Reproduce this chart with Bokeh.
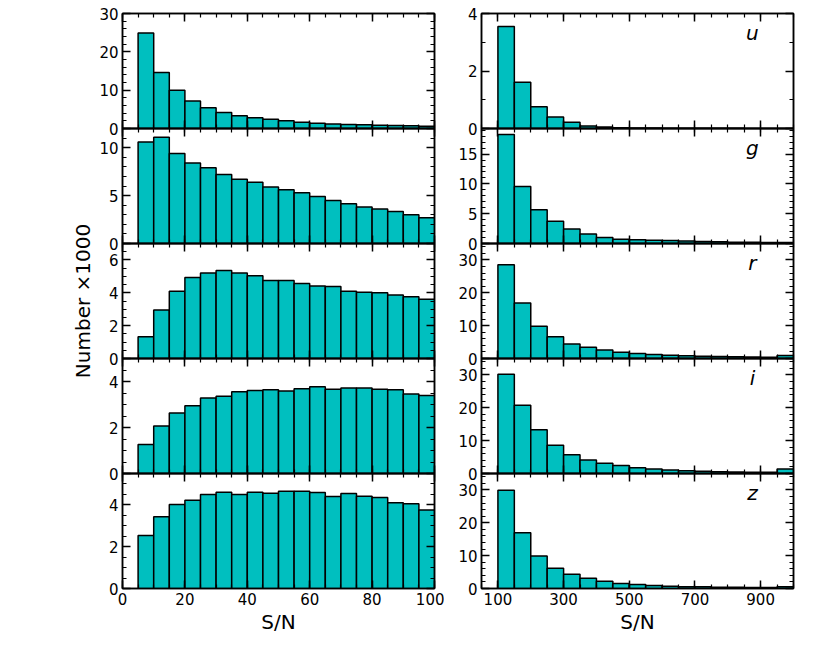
from bokeh.plotting import figure
from bokeh.models import Range1d, LinearAxis, FixedTicker, Label
from bokeh.layouts import row, column
from bokeh.embed import file_html
from bokeh.resources import INLINE

BANDS = ["u", "g", "r", "i", "z"]

LOW_EDGES = [5, 10, 15, 20, 25, 30, 35, 40, 45, 50, 55, 60, 65, 70, 75, 80, 85, 90, 95, 100]
HIGH_EDGES = [100, 150, 200, 250, 300, 350, 400, 450, 500, 550, 600, 650, 700, 750, 800,
              850, 900, 950, 1000]

# Number x1000, low S/N (5-100)
LOW_U = [24.9, 14.6, 10.0, 7.2, 5.4, 4.2, 3.3, 2.8, 2.4, 2.0, 1.65, 1.4, 1.2, 1.05, 0.95, 0.87, 0.8, 0.7, 0.6]
LOW_G = [10.6, 11.1, 9.4, 8.4, 7.9, 7.2, 6.7, 6.4, 5.9, 5.6, 5.3, 4.9, 4.5, 4.15, 3.8, 3.6, 3.35, 3.0, 2.7]
LOW_R = [1.33, 2.95, 4.1, 4.93, 5.21, 5.35, 5.21, 5.03, 4.75, 4.75, 4.57, 4.42, 4.38, 4.1, 4.04, 4.0, 3.86, 3.76, 3.6]
LOW_I = [1.26, 2.06, 2.63, 2.95, 3.28, 3.36, 3.55, 3.61, 3.64, 3.59, 3.69, 3.77, 3.66, 3.72, 3.72, 3.66, 3.64, 3.46, 3.39]
LOW_Z = [2.54, 3.43, 4.02, 4.22, 4.49, 4.6, 4.5, 4.6, 4.56, 4.65, 4.65, 4.59, 4.4, 4.54, 4.41, 4.35, 4.1, 4.05, 3.75]

# Number x1000, high S/N (100-1000)
HIGH_U = [3.55, 1.61, 0.76, 0.40, 0.22, 0.09, 0.05, 0.03, 0.02, 0.015, 0.01, 0.01, 0.008, 0.006, 0.005, 0.004, 0.003, 0.003]
HIGH_G = [18.3, 9.55, 5.65, 3.73, 2.43, 1.58, 1.02, 0.73, 0.62, 0.56, 0.5, 0.4, 0.33, 0.28, 0.22, 0.2, 0.17, 0.15]
HIGH_R = [28.5, 16.9, 9.8, 6.6, 4.4, 3.4, 2.6, 1.9, 1.5, 1.2, 1.0, 0.8, 0.7, 0.6, 0.5, 0.45, 0.4, 0.9]
HIGH_I = [30.2, 20.8, 13.3, 8.6, 5.7, 4.1, 3.1, 2.4, 1.75, 1.35, 1.05, 0.85, 0.65, 0.55, 0.45, 0.4, 0.35, 1.4]
HIGH_Z = [29.9, 17.0, 9.9, 6.2, 4.3, 3.1, 2.2, 1.5, 1.2, 0.9, 0.7, 0.55, 0.5, 0.4, 0.35, 0.3, 0.3, 0.5]

LOW_VALUES = [LOW_U, LOW_G, LOW_R, LOW_I, LOW_Z]
HIGH_VALUES = [HIGH_U, HIGH_G, HIGH_R, HIGH_I, HIGH_Z]

LOW_YMAX = [30, 12, 7, 5, 5.5]
HIGH_YMAX = [4, 19.3, 35, 35, 35]
# (major interval, minor step)
LOW_YTICK = [(10, 2), (5, 1), (2, 0.5), (2, 0.5), (2, 0.5)]
HIGH_YTICK = [(2, 1), (5, 1), (10, 2), (10, 2), (10, 2)]

LOW_XTICKS = [0, 20, 40, 60, 80, 100]
LOW_XMINOR = [0, 5, 10, 15, 20, 25, 30, 35, 40, 45, 50, 55, 60, 65, 70, 75, 80, 85, 90, 95, 100]
HIGH_XTICKS = [100, 300, 500, 700, 900]
HIGH_XMINOR = [50, 100, 150, 200, 250, 300, 350, 400, 450, 500, 550, 600, 650, 700, 750,
               800, 850, 900, 950, 1000]

YLABEL = "Number \u00d71000"
XLABEL = "S/N"

FILL = "#00bfbf"
FONT = "DejaVu Sans"
FH = 115
FW = 312
INNER = 10
TOP = 13
BOTTOM = 55
LAB_W = 96   # strip holding the shared y title


def steps(step, top):
    out = []
    i = 0
    while i * step <= top + 1e-9:
        out.append(round(i * step, 6))
        i += 1
    return out


def base_style(ax):
    ax.major_tick_out = 0
    ax.minor_tick_out = 0
    ax.axis_line_color = "black"
    ax.axis_line_width = 1.5
    ax.major_tick_line_color = "black"
    ax.minor_tick_line_color = "black"
    ax.major_label_standoff = 0
    ax.major_label_text_font = FONT
    ax.axis_label_text_font = FONT
    ax.axis_label_text_font_size = "20px"
    ax.axis_label_text_font_style = "normal"
    ax.axis_label_text_color = "black"


def labeled_axis(ticks, minor):
    ax = LinearAxis(ticker=FixedTicker(ticks=ticks, minor_ticks=minor))
    base_style(ax)
    ax.major_tick_in = 8
    ax.minor_tick_in = 4
    ax.major_tick_line_width = 1.5
    ax.minor_tick_line_width = 1.2
    ax.major_label_text_font_size = "15px"
    ax.major_label_text_color = "black"
    ax.major_label_standoff = 4
    return ax


def tick_only_axes(ticks, minor):
    # two label-free axes: long marks at major positions, short ones at minor positions
    a = LinearAxis(ticker=FixedTicker(ticks=[], minor_ticks=ticks))
    base_style(a)
    a.minor_tick_in = 8
    a.minor_tick_line_width = 1.5
    b = LinearAxis(ticker=FixedTicker(ticks=[], minor_ticks=minor))
    base_style(b)
    b.minor_tick_in = 4
    b.minor_tick_line_width = 1.2
    b.axis_line_color = None
    return [a, b]


def panel(edges, vals, xr, xticks, xminor, ymax, ytick, k, is_left, band):
    top_b = TOP if k == 0 else INNER
    bot_b = BOTTOM if k == 4 else INNER
    p = figure(frame_width=FW, frame_height=FH,
               x_range=Range1d(*xr), y_range=Range1d(0, ymax),
               x_axis_type=None, y_axis_type=None,
               output_backend="svg", toolbar_location=None,
               min_border_left=(122 - LAB_W) if is_left else 37,
               min_border_right=10,
               min_border_top=top_b, min_border_bottom=bot_b,
               background_fill_color=None, border_fill_color=None,
               outline_line_color="black", outline_line_width=1.5)
    if k > 0:
        p.margin = (-2 * INNER, 0, 0, 0)
    ymaj = steps(ytick[0], ymax)
    ymin = steps(ytick[1], ymax)

    p.add_layout(labeled_axis(ymaj, ymin), "left")
    for ax in tick_only_axes(ymaj, ymin):
        p.add_layout(ax, "right")
    for ax in tick_only_axes(xticks, xminor):
        p.add_layout(ax, "above")
    if k == 4:
        xb = labeled_axis(xticks, xminor)
        xb.axis_label = XLABEL
        xb.axis_label_standoff = 2
        p.add_layout(xb, "below")
    else:
        for ax in tick_only_axes(xticks, xminor):
            p.add_layout(ax, "below")

    p.quad(left=edges[:-1], right=edges[1:], bottom=0, top=vals,
           fill_color=FILL, line_color="black", line_width=1.5)
    if not is_left:
        p.add_layout(Label(x=875, y=ymax * 0.832, text=band, text_font=FONT,
                           text_font_size="20px", text_font_style="italic",
                           text_align="center", text_baseline="alphabetic",
                           text_color="black"))
    return p


left = [panel(LOW_EDGES, LOW_VALUES[k], (0, 100), LOW_XTICKS, LOW_XMINOR,
              LOW_YMAX[k], LOW_YTICK[k], k, True, BANDS[k]) for k in range(5)]
right = [panel(HIGH_EDGES, HIGH_VALUES[k], (50, 1000), HIGH_XTICKS, HIGH_XMINOR,
               HIGH_YMAX[k], HIGH_YTICK[k], k, False, BANDS[k]) for k in range(5)]

# narrow strip whose (tick-free) left axis carries the shared y title
lab = figure(frame_width=2, frame_height=5 * FH, x_range=Range1d(0, 1),
             y_range=Range1d(0, 1), x_axis_type=None, y_axis_type=None,
             output_backend="svg", toolbar_location=None,
             min_border_left=LAB_W - 2, min_border_right=0,
             min_border_top=TOP, min_border_bottom=BOTTOM,
             outline_line_color=None, background_fill_color=None,
             border_fill_color=None)
lab_axis = LinearAxis(ticker=FixedTicker(ticks=[], minor_ticks=[]))
base_style(lab_axis)
lab_axis.axis_line_color = None
lab_axis.axis_label = YLABEL
lab_axis.axis_label_standoff = 0
lab.add_layout(lab_axis, "left")

layout = row(lab, column(*left), column(*right))
open("out.html", "w").write(file_html(layout, INLINE))
